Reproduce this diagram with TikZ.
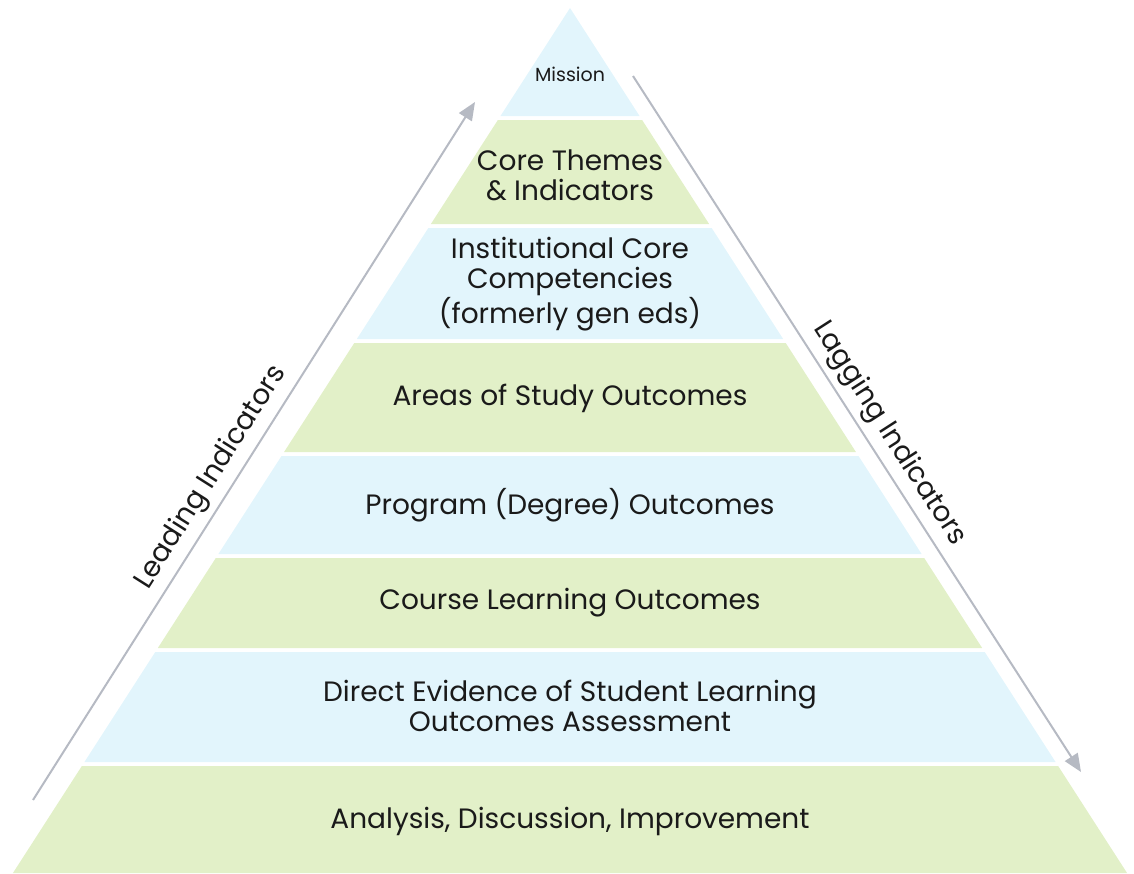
\documentclass[tikz,border=0pt]{standalone}
\usepackage{fontspec}
\setmainfont{Poppins}
\usepackage{tikz}
\usetikzlibrary{arrows.meta}

\definecolor{bandgreen}{RGB}{226,240,200}
\definecolor{bandblue}{RGB}{226,245,252}
\definecolor{arrowgray}{RGB}{182,186,195}
\definecolor{inktext}{RGB}{26,26,26}

\tikzset{
  band/.style={align=center, text=inktext, font=\fontsize{28}{30}\selectfont},
  indarrow/.style={draw=arrowgray, line width=2pt, -{Triangle[length=18pt, width=15pt]}},
  indlabel/.style={sloped, above=3pt, text=inktext, font=\fontsize{28}{30}\selectfont}
}

\begin{document}
\begin{tikzpicture}[x=1pt, y=-1pt]
    \useasboundingbox (0,0) rectangle (1134,873);

    % pyramid bands, top y / bottom y / colour
    \foreach \ya/\yb/\col in {8/116/bandblue, 120/224/bandgreen, 228/339/bandblue,
        343/452/bandgreen, 456/554/bandblue, 558/648/bandgreen,
        652/762/bandblue, 766/873/bandgreen}{
      \pgfmathsetmacro\xa{0.644*(\ya-8)}
      \pgfmathsetmacro\xb{0.644*(\yb-8)}
      \fill[\col] (570-\xa,\ya) -- (570+\xa,\ya) -- (570+\xb,\yb) -- (570-\xb,\yb) -- cycle;
    }

    \node[band, font=\fontsize{19}{22}\selectfont] (mission) at (570,74) {Mission};
    \node[band] (themes) at (570,175) {Core Themes\\ \& Indicators};
    \node[band] (icc) at (570,284) {Institutional Core\\ Competencies\\ (formerly gen eds)};
    \node[band] (areas) at (570,398) {Areas of Study Outcomes};
    \node[band] (program) at (570,505) {Program (Degree) Outcomes};
    \node[band] (course) at (570,603) {Course Learning Outcomes};
    \node[band] (direct) at (570,706) {Direct Evidence of Student Learning\\ Outcomes Assessment};
    \node[band] (analysis) at (570,821) {Analysis, Discussion, Improvement};

    \coordinate (leadstart) at (33,800);
    \coordinate (leadend) at (475,102);
    \coordinate (lagstart) at (633,76);
    \coordinate (lagend) at (1081,772);

    \draw[indarrow] (leadstart) -- (leadend) node[indlabel, pos=0.445] {Leading Indicators};
    \draw[indarrow] (lagstart) -- (lagend) node[indlabel, pos=0.531] {Lagging Indicators};
\end{tikzpicture}
\end{document}
